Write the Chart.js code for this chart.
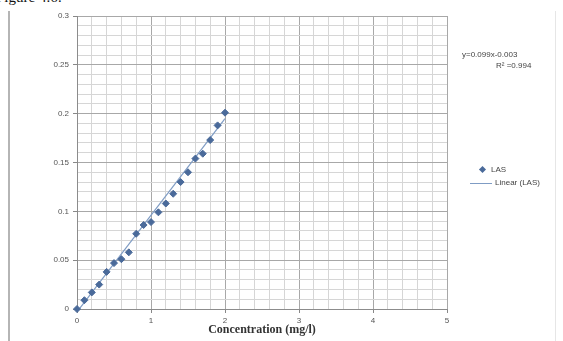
<!DOCTYPE html>
<html>
<head>
<meta charset="utf-8">
<script src="https://cdn.jsdelivr.net/npm/chart.js@4/dist/chart.umd.min.js"></script>
<style>
  body { margin: 0; background: #fff; }
  #wrap { position: relative; width: 563px; height: 341px; overflow: hidden; background: #fff; }
  #cap { position: absolute; left: -4px; top: -11px; font: 15px 'Liberation Serif', serif; color: #111; white-space: nowrap; }
  #frame { position: absolute; left: 8px; top: 11px; width: 545px; height: 340px; border-left: 2px solid #b5b5b5; border-right: 1px solid #e6e6e6; }
  #chart { position: absolute; left: 0; top: 0; }
  .txt { position: absolute; font: 8px 'Liberation Sans', Arial, sans-serif; color: #444; white-space: nowrap; }
  .mark { position: absolute; width: 5px; height: 5px; background: #4a6a9a; transform: rotate(45deg); }
  .ln { position: absolute; height: 1px; background: #7f9cc4; }
</style>
</head>
<body>
<div id="wrap">
  <div id="cap">Figure 4.6:</div>
  <div id="frame"></div>
  <canvas id="chart" width="563" height="341"></canvas>
  <div class="txt" style="left:462px;top:50px;">y=0.099x-0.003</div>
  <div class="txt" style="left:496px;top:61px;">R² =0.994</div>
  <div class="mark" style="left:480px;top:167px;"></div>
  <div class="txt" style="left:491px;top:165px;">LAS</div>
  <div class="ln" style="left:470px;top:183px;width:22px;"></div>
  <div class="txt" style="left:495px;top:178px;">Linear (LAS)</div>
</div>
<script>
// concentration (mg/l) and LAS absorbance
var concX = [0, 0.1, 0.2, 0.3, 0.4, 0.5, 0.6, 0.7, 0.8, 0.9, 1.0,
             1.1, 1.2, 1.3, 1.4, 1.5, 1.6, 1.7, 1.8, 1.9, 2.0];
var lasY = [0, 0.009, 0.017, 0.025, 0.038, 0.047, 0.051, 0.058, 0.077, 0.086, 0.089,
            0.099, 0.108, 0.118, 0.130, 0.140, 0.154, 0.159, 0.173, 0.188, 0.201];

// linear trendline ends
var trendX = [0, 2];
var trendY = [-0.003, 0.195];

var xTickLabels = ['0', '1', '2', '3', '4', '5'];
var yTickLabels = ['0', '0.05', '0.1', '0.15', '0.2', '0.25', '0.3'];

function isMajor(v, step) {
  var r = v / step;
  return Math.abs(r - Math.round(r)) < 1e-6;
}

var pts = concX.map(function(x, i) { return {x: x, y: lasY[i]}; });
var trend = trendX.map(function(x, i) { return {x: x, y: trendY[i]}; });

var tickFont = {family: "'Liberation Sans', Arial, sans-serif", size: 8};

new Chart(document.getElementById('chart'), {
  type: 'scatter',
  data: {
    datasets: [{
      label: 'LAS',
      data: pts,
      pointStyle: 'rectRot',
      pointRadius: 3.5,
      backgroundColor: '#4a6a9a',
      borderColor: '#4a6a9a',
      borderWidth: 1,
      clip: 6,
      order: 1
    }, {
      label: 'Linear (LAS)',
      type: 'line',
      data: trend,
      showLine: true,
      pointRadius: 0,
      borderColor: '#7f9cc4',
      borderWidth: 1.2,
      fill: false,
      order: 2
    }]
  },
  options: {
    responsive: false,
    animation: false,
    layout: { padding: { left: 0, right: 116, top: 16, bottom: 0 } },
    plugins: {
      legend: { display: false },
      tooltip: { enabled: false }
    },
    scales: {
      x: {
        type: 'linear',
        min: 0,
        max: 5,
        afterFit: function(s) { s.height = 32; },
        ticks: {
          stepSize: 0.2,
          maxTicksLimit: 100,
          autoSkip: false,
          maxRotation: 0,
          padding: 3,
          font: tickFont,
          color: '#555',
          callback: function(v) {
            return isMajor(v, 1) ? xTickLabels[Math.round(v)] : '';
          }
        },
        grid: {
          tickLength: 4,
          color: function(c) { return isMajor(c.tick.value, 1) ? '#a8a8a8' : '#d6d6d6'; },
          tickColor: function(c) { return isMajor(c.tick.value, 1) ? '#888' : 'rgba(0,0,0,0)'; }
        },
        border: { color: '#8c8c8c' },
        title: {
          display: true,
          text: 'Concentration (mg/l)',
          color: '#333',
          font: {family: "'Liberation Serif', 'Times New Roman', serif", size: 12, weight: 'bold'},
          padding: {top: 2, bottom: 4}
        }
      },
      y: {
        min: 0,
        max: 0.3,
        afterFit: function(s) { s.width = 77; },
        ticks: {
          stepSize: 0.01,
          maxTicksLimit: 100,
          autoSkip: false,
          padding: 4,
          font: tickFont,
          color: '#555',
          callback: function(v) {
            return isMajor(v, 0.05) ? yTickLabels[Math.round(v / 0.05)] : '';
          }
        },
        grid: {
          tickLength: 4,
          color: function(c) { return isMajor(c.tick.value, 0.05) ? '#a8a8a8' : '#d6d6d6'; },
          tickColor: function(c) { return isMajor(c.tick.value, 0.05) ? '#888' : 'rgba(0,0,0,0)'; }
        },
        border: { color: '#8c8c8c' }
      }
    }
  }
});
</script>
</body>
</html>
